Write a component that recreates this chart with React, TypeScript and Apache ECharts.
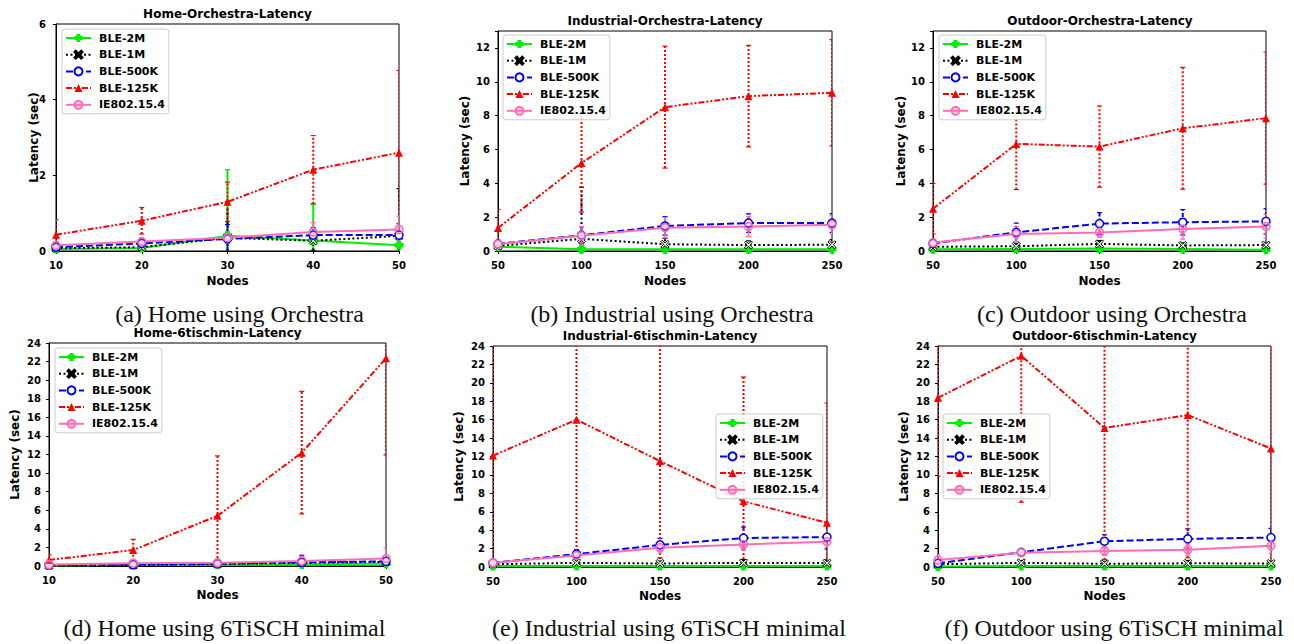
import React, { useEffect, useRef } from 'react';
import * as echarts from 'echarts';

// ---------- data ----------
const seriesNames = ['BLE-2M', 'BLE-1M', 'BLE-500K', 'BLE-125K', 'IE802.15.4'];
const homeNodes = [10, 20, 30, 40, 50];
const largeNodes = [50, 100, 150, 200, 250];
const yTicksHomeOrch = [0, 2, 4, 6];
const yTicksOrch = [0, 2, 4, 6, 8, 10, 12];
const yTicksTisch = [0, 2, 4, 6, 8, 10, 12, 14, 16, 18, 20, 22, 24];

// (a) Home - Orchestra : mean / std
const hoMean2M = [0.05, 0.08, 0.4, 0.28, 0.15];
const hoStd2M = [0.08, 0.1, 1.75, 0.95, 0.12];
const hoMean1M = [0.07, 0.1, 0.35, 0.27, 0.4];
const hoStd1M = [0.1, 0.12, 0.95, 0.25, 1.25];
const hoMean500K = [0.1, 0.2, 0.32, 0.42, 0.42];
const hoStd500K = [0.12, 0.12, 0.38, 0.2, 0.3];
const hoMean125K = [0.43, 0.8, 1.3, 2.15, 2.6];
const hoStd125K = [0.4, 0.35, 0.52, 0.9, 2.17];
const hoMeanIE = [0.15, 0.25, 0.35, 0.5, 0.57];
const hoStdIE = [0.1, 0.1, 0.15, 0.25, 0.35];

// (b) Industrial - Orchestra
const ioMean2M = [0.25, 0.1, 0.1, 0.1, 0.1];
const ioStd2M = [0.2, 0.15, 0.12, 0.1, 0.1];
const ioMean1M = [0.3, 0.72, 0.4, 0.35, 0.37];
const ioStd1M = [0.2, 3.05, 0.35, 0.25, 0.3];
const ioMean500K = [0.42, 0.93, 1.48, 1.65, 1.65];
const ioStd500K = [0.2, 0.5, 0.55, 0.55, 0.55];
const ioMean125K = [1.36, 5.2, 8.5, 9.15, 9.35];
const ioStd125K = [1.1, 2.9, 3.6, 3.0, 3.15];
const ioMeanIE = [0.4, 0.9, 1.38, 1.45, 1.55];
const ioStdIE = [0.15, 0.55, 0.6, 0.6, 0.55];

// (c) Outdoor - Orchestra
const ooMean2M = [0.1, 0.12, 0.15, 0.12, 0.08];
const ooStd2M = [0.1, 0.1, 0.1, 0.1, 0.08];
const ooMean1M = [0.25, 0.28, 0.42, 0.33, 0.35];
const ooStd1M = [0.1, 0.15, 0.2, 0.15, 0.15];
const ooMean500K = [0.45, 1.1, 1.62, 1.7, 1.75];
const ooStd500K = [0.2, 0.55, 0.65, 0.75, 0.75];
const ooMean125K = [2.5, 6.33, 6.17, 7.25, 7.85];
const ooStd125K = [1.5, 2.7, 2.4, 3.6, 3.9];
const ooMeanIE = [0.5, 1.0, 1.1, 1.3, 1.45];
const ooStdIE = [0.2, 0.45, 0.3, 0.6, 0.7];

// (d) Home - 6TiSCH minimal
const htMean2M = [0.05, 0.1, 0.15, 0.2, 0.25];
const htStd2M = [0.05, 0.1, 0.6, 0.2, 0.2];
const htMean1M = [0.05, 0.1, 0.2, 0.35, 0.45];
const htStd1M = [0.05, 0.1, 0.2, 0.8, 0.3];
const htMean500K = [0.1, 0.15, 0.25, 0.4, 0.5];
const htStd500K = [0.05, 0.1, 0.15, 0.3, 0.4];
const htMean125K = [0.65, 1.72, 5.4, 12.2, 22.35];
const htStd125K = [0.55, 1.15, 6.45, 6.6, 10.4];
const htMeanIE = [0.15, 0.3, 0.35, 0.55, 0.8];
const htStdIE = [0.1, 0.15, 0.2, 0.5, 1.1];

// (e) Industrial - 6TiSCH minimal
const itMean2M = [0.1, 0.1, 0.1, 0.1, 0.1];
const itStd2M = [0.1, 0.1, 0.1, 0.1, 0.1];
const itMean1M = [0.3, 0.45, 0.38, 0.45, 0.42];
const itStd1M = [0.2, 0.3, 0.6, 0.35, 0.35];
const itMean500K = [0.45, 1.4, 2.4, 3.15, 3.25];
const itStd500K = [0.2, 0.5, 0.7, 1.2, 1.3];
const itMean125K = [12.1, 16.0, 11.5, 7.13, 4.8];
const itStd125K = [13, 16.5, 13, 13.5, 13];
const itMeanIE = [0.45, 1.25, 2.1, 2.45, 2.75];
const itStdIE = [0.2, 0.5, 0.6, 0.6, 0.6];

// (f) Outdoor - 6TiSCH minimal
const otMean2M = [0.05, 0.1, 0.1, 0.1, 0.1];
const otStd2M = [0.05, 0.1, 0.1, 0.1, 0.1];
const otMean1M = [0.3, 0.45, 0.35, 0.4, 0.38];
const otStd1M = [0.15, 0.25, 0.25, 0.3, 0.25];
const otMean500K = [0.4, 1.6, 2.8, 3.05, 3.2];
const otStd500K = [0.3, 0.3, 0.7, 1.1, 1.0];
const otMean125K = [18.37, 22.93, 15.1, 16.5, 12.87];
const otStd125K = [8.5, 15.9, 14.3, 15.5, 13];
const otMeanIE = [0.75, 1.55, 1.75, 1.88, 2.3];
const otStdIE = [0.6, 0.3, 0.5, 0.6, 0.8];

const titles = [
  'Home-Orchestra-Latency', 'Industrial-Orchestra-Latency', 'Outdoor-Orchestra-Latency',
  'Home-6tischmin-Latency', 'Industrial-6tischmin-Latency', 'Outdoor-6tischmin-Latency',
];
const captions = [
  '(a) Home using Orchestra', '(b) Industrial using Orchestra', '(c) Outdoor using Orchestra',
  '(d) Home using 6TiSCH minimal', '(e) Industrial using 6TiSCH minimal', '(f) Outdoor using 6TiSCH minimal',
];

// ---------- panel assembly ----------
const panelData = [
  { nodes: homeNodes, ticks: yTicksHomeOrch, yMax: 6,
    means: [hoMean2M, hoMean1M, hoMean500K, hoMean125K, hoMeanIE],
    stds: [hoStd2M, hoStd1M, hoStd500K, hoStd125K, hoStdIE] },
  { nodes: largeNodes, ticks: yTicksOrch, yMax: 13,
    means: [ioMean2M, ioMean1M, ioMean500K, ioMean125K, ioMeanIE],
    stds: [ioStd2M, ioStd1M, ioStd500K, ioStd125K, ioStdIE] },
  { nodes: largeNodes, ticks: yTicksOrch, yMax: 13,
    means: [ooMean2M, ooMean1M, ooMean500K, ooMean125K, ooMeanIE],
    stds: [ooStd2M, ooStd1M, ooStd500K, ooStd125K, ooStdIE] },
  { nodes: homeNodes, ticks: yTicksTisch, yMax: 24,
    means: [htMean2M, htMean1M, htMean500K, htMean125K, htMeanIE],
    stds: [htStd2M, htStd1M, htStd500K, htStd125K, htStdIE] },
  { nodes: largeNodes, ticks: yTicksTisch, yMax: 24,
    means: [itMean2M, itMean1M, itMean500K, itMean125K, itMeanIE],
    stds: [itStd2M, itStd1M, itStd500K, itStd125K, itStdIE] },
  { nodes: largeNodes, ticks: yTicksTisch, yMax: 24,
    means: [otMean2M, otMean1M, otMean500K, otMean125K, otMeanIE],
    stds: [otStd2M, otStd1M, otStd500K, otStd125K, otStdIE] },
];

// layout (pixels)
const layout = [
  { grid: [56, 24, 343, 227], legend: [62, 29], yGap: 16, yMargin: 10, xGap: 24, title: [227.5, 13.5], caption: [239.5, 314] },
  { grid: [498, 31, 334, 220], legend: [503, 35], yGap: 27, yMargin: 8, xGap: 24, title: [665, 21], caption: [672, 314] },
  { grid: [933, 31, 333, 220], legend: [939, 35], yGap: 26, yMargin: 8, xGap: 24, title: [1100, 21], caption: [1112, 314] },
  { grid: [49, 343, 337, 223], legend: [55, 348], yGap: 28, yMargin: 8, xGap: 23, title: [217.5, 333], caption: [224.5, 628] },
  { grid: [493, 346, 334, 221], legend: [716, 414], yGap: 28, yMargin: 8, xGap: 23, title: [660, 336], caption: [669, 628] },
  { grid: [938, 346, 333, 221], legend: [943, 414], yGap: 28, yMargin: 8, xGap: 23, title: [1104.5, 336], caption: [1114, 628] },
];

const FONT = 'DejaVu Sans';
const plusPath = 'path://M2.5,0H7.5V2.5H10V7.5H7.5V10H2.5V7.5H0V2.5H2.5Z';
const xPath = 'path://M0,1.6L1.6,0L5,3.4L8.4,0L10,1.6L6.6,5L10,8.4L8.4,10L5,6.6L1.6,10L0,8.4L3.4,5Z';

const styles = [
  { color: '#00ee00', lineDash: 'solid' as any, symbol: plusPath, size: 9, fill: '#00ee00', border: '#00ee00', bw: 0, errDash: null, width: 2 },
  { color: '#000000', lineDash: [2, 2.5], symbol: xPath, size: 8, fill: '#ffffff', border: '#000000', bw: 1, errDash: [2, 2.5], width: 2 },
  { color: '#0000ff', lineDash: [7, 3], symbol: 'circle', size: 8, fill: '#ffffff', border: '#0000ff', bw: 1.5, errDash: [4, 2], width: 2 },
  { color: '#ff0000', lineDash: [6, 2, 2, 2, 2, 2], symbol: 'triangle', size: 8, fill: '#ff0000', border: '#ff0000', bw: 0, errDash: [2, 2], width: 2 },
  { color: '#ff6eb4', lineDash: 'solid' as any, symbol: 'circle', size: 8, fill: 'rgba(255,110,180,0.3)', border: '#ff6eb4', bw: 1.5, errDash: null, width: 2 },
];

function buildOption() {
  const grid: any[] = [];
  const xAxis: any[] = [];
  const yAxis: any[] = [];
  const legend: any[] = [];
  const series: any[] = [];
  const graphic: any[] = [];

  panelData.forEach((p, gi) => {
    const L = layout[gi];
    grid.push({
      left: L.grid[0], top: L.grid[1], width: L.grid[2], height: L.grid[3],
      show: true, borderColor: '#000', borderWidth: 1, backgroundColor: '#fff',
      containLabel: false, outerBoundsMode: 'none',
    });
    const xMin = p.nodes[0];
    const xMax = p.nodes[p.nodes.length - 1];
    xAxis.push({
      type: 'value', gridIndex: gi, min: xMin, max: xMax, interval: p.nodes[1] - p.nodes[0],
      axisLine: { show: true, onZero: false, lineStyle: { color: '#000', width: 1 } },
      axisTick: { show: true, inside: false, length: 3, lineStyle: { color: '#000', width: 1 } },
      axisLabel: { fontFamily: FONT, fontWeight: 'bold', fontSize: 10, color: '#000', margin: 9, hideOverlap: false },
      splitLine: { show: false },
      name: 'Nodes', nameLocation: 'middle', nameGap: L.xGap, nameMoveOverlap: false,
      nameTextStyle: { fontFamily: FONT, fontWeight: 'bold', fontSize: 12, color: '#000' },
    });
    const maxTick = p.ticks[p.ticks.length - 1];
    yAxis.push({
      type: 'value', gridIndex: gi, min: 0, max: p.yMax, interval: p.ticks[1] - p.ticks[0],
      axisLine: { show: true, onZero: false, lineStyle: { color: '#000', width: 1 } },
      axisTick: { show: true, inside: false, length: 3, lineStyle: { color: '#000', width: 1 } },
      axisLabel: {
        fontFamily: FONT, fontWeight: 'bold', fontSize: 10, color: '#000', margin: L.yMargin, hideOverlap: false,
        formatter: (v: number) => (v > maxTick + 1e-9 ? '' : String(v)),
      },
      splitLine: { show: false },
      name: 'Latency (sec)', nameLocation: 'middle', nameGap: L.yGap, nameMoveOverlap: false,
      nameTextStyle: { fontFamily: FONT, fontWeight: 'bold', fontSize: 12, color: '#000' },
    });
    legend.push({
      data: seriesNames, orient: 'vertical', left: L.legend[0], top: L.legend[1],
      itemWidth: 25, itemHeight: 10, itemGap: 4.7, padding: [3, 4, 3, 3],
      borderColor: '#cccccc', borderWidth: 1, borderRadius: 3, backgroundColor: 'rgba(255,255,255,0.85)',
      selectedMode: false, z: 10,
      textStyle: { fontFamily: FONT, fontWeight: 'bold', fontSize: 11, color: '#000', lineHeight: 12, padding: [0, 0, 0, 3] },
    });

    seriesNames.forEach((name, si) => {
      const st = styles[si];
      const mean = p.means[si];
      const std = p.stds[si];
      const yMax = p.yMax;
      series.push({
        type: 'custom', name: 'err-' + name + '-' + gi, xAxisIndex: gi, yAxisIndex: gi,
        clip: true, silent: true, z: 2,
        data: p.nodes.map((x, i) => [x, mean[i] - std[i], mean[i] + std[i]]),
        encode: { x: 0, y: [1, 2] },
        renderItem: (params: any, api: any) => {
          const x = api.value(0);
          const lo = api.value(1);
          const hi = api.value(2);
          const loC = Math.max(lo, 0);
          const hiC = Math.min(hi, yMax);
          const p1 = api.coord([x, loC]);
          const p2 = api.coord([x, hiC]);
          const children: any[] = [{
            type: 'line',
            shape: { x1: p1[0], y1: p1[1], x2: p2[0], y2: p2[1] },
            style: { stroke: st.color, lineWidth: 2, lineDash: st.errDash || undefined, opacity: si === 4 ? 0.85 : 1 },
          }];
          if (lo >= 0) {
            children.push({ type: 'line', shape: { x1: p1[0] - 2.5, y1: p1[1], x2: p1[0] + 2.5, y2: p1[1] }, style: { stroke: st.color, lineWidth: 1.2 } });
          }
          if (hi <= yMax) {
            children.push({ type: 'line', shape: { x1: p2[0] - 2.5, y1: p2[1], x2: p2[0] + 2.5, y2: p2[1] }, style: { stroke: st.color, lineWidth: 1.2 } });
          }
          return { type: 'group', children };
        },
      });
      series.push({
        type: 'line', name, xAxisIndex: gi, yAxisIndex: gi, z: 3,
        data: p.nodes.map((x, i) => [x, mean[i]]),
        showSymbol: true, symbol: st.symbol, symbolSize: st.size, clip: true,
        lineStyle: { color: st.color, width: st.width, type: st.lineDash },
        itemStyle: { color: st.fill, borderColor: st.border, borderWidth: st.bw },
        emphasis: { disabled: true },
      });
    });

    graphic.push({
      type: 'text', x: L.title[0], y: L.title[1], silent: true,
      style: {
        text: titles[gi], fill: '#000', fontFamily: FONT, fontWeight: 'bold', fontSize: 12,
        align: 'center', verticalAlign: 'middle', textAlign: 'center', textVerticalAlign: 'middle',
      },
    });
    graphic.push({
      type: 'text', x: L.caption[0], y: L.caption[1], silent: true,
      style: {
        text: captions[gi], fill: '#111', fontFamily: 'Liberation Serif', fontWeight: 'normal', fontSize: 24,
        align: 'center', verticalAlign: 'middle', textAlign: 'center', textVerticalAlign: 'middle',
      },
    });
  });

  return {
    animation: false,
    backgroundColor: '#fff',
    grid, xAxis, yAxis, legend, series, graphic,
  };
}

export default function App() {
  const ref = useRef<HTMLDivElement>(null);
  useEffect(() => {
    if (!ref.current) return;
    const chart = echarts.init(ref.current, undefined, { renderer: 'svg' });
    chart.setOption(buildOption() as any);
    return () => chart.dispose();
  }, []);
  return (
    <div
      ref={ref}
      style={{ position: 'fixed', left: 0, top: 0, width: 1294, height: 644, background: '#fff' }}
    />
  );
}
